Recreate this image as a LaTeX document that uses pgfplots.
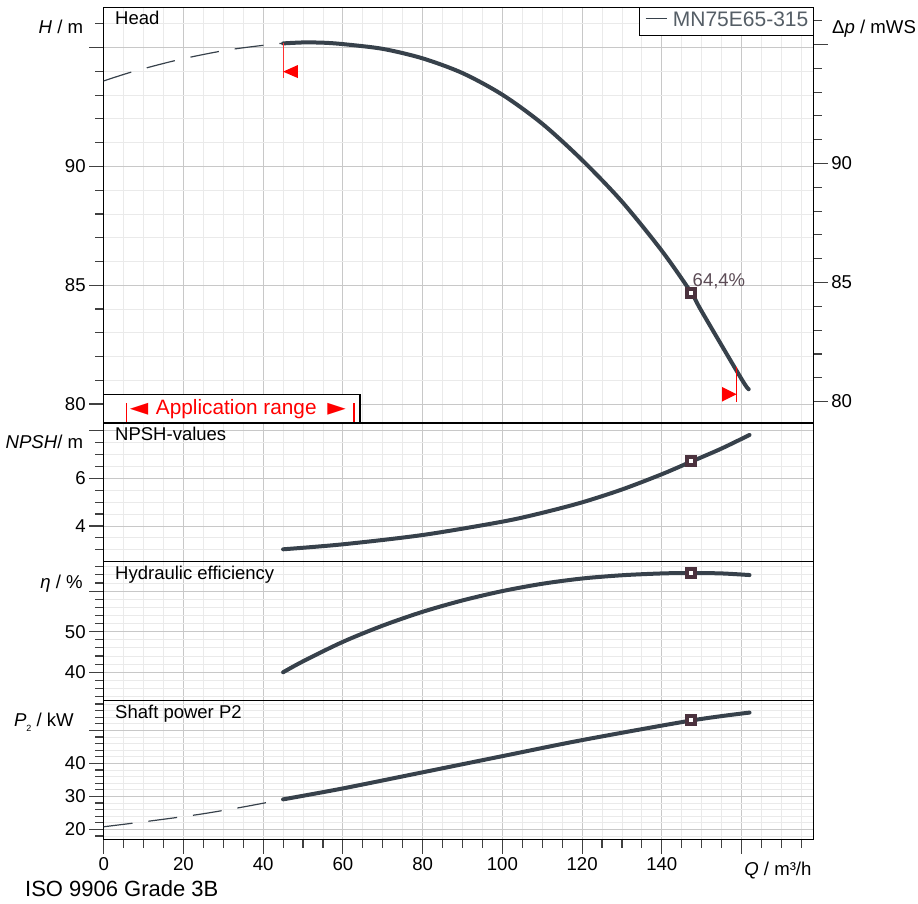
\documentclass[border=0pt]{standalone}
\usepackage{fontspec}
\setmainfont{Liberation Sans}
\newfontfamily\symfont{DejaVu Sans}
\usepackage{pgfplots}
\pgfplotsset{compat=1.18}

\definecolor{curve}{RGB}{55,65,75}
\definecolor{opmark}{RGB}{75,50,62}
\definecolor{optext}{RGB}{92,76,86}
\definecolor{gridmaj}{RGB}{200,200,200}
\definecolor{gridmin}{RGB}{234,234,234}
\newcommand\lbl{\fontsize{18.6}{21}\selectfont}
\newcommand\ttl{\fontsize{18.5}{21}\selectfont}

\pgfplotsset{
  panel/.style={
    scale only axis, width=709.6pt, anchor=south west,
    xmin=0, xmax=178,
    xtick={0,20,...,160},
    minor xtick={5,10,15,25,30,35,45,50,55,65,70,75,85,90,95,105,110,115,125,130,135,145,150,155,165,170,175},
    grid=both,
    major grid style={gridmaj, line width=0.9pt},
    minor grid style={gridmin, line width=0.9pt},
    axis line style={black, line width=1.2pt},
    tick align=outside,
    major tick length=14.5pt, minor tick length=8.5pt,
    every tick/.style={black!75, line width=1.1pt},
    ytick pos=left, xtick pos=bottom,
    ticklabel style={font=\lbl},
    /pgf/number format/assume math mode=true,
  },
  upper/.style={panel, xticklabels={},
    every major x tick/.append style={draw=none},
    every minor x tick/.append style={draw=none}},
  thick curve/.style={curve, line width=4pt, line cap=round, smooth},
  thin dash/.style={curve, line width=1.2pt, dash pattern=on 29pt off 16pt, smooth},
  op/.style={only marks, mark=square*, mark size=4pt,
    mark options={draw=opmark, fill=white, line width=4pt, solid}},
}

\begin{document}
\begin{tikzpicture}
\useasboundingbox (0,0) rectangle (918pt,903pt);

% Head
\begin{axis}[upper, at={(103.7pt,480pt)}, height=415.7pt,
  ymin=79.2, ymax=96.7,
  ytick={80,85,90,95}, yticklabels={80,85,90,{}},
  minor ytick={81,82,83,84,86,87,88,89,91,92,93,94,96}]
\addplot[thin dash] coordinates {(0,93.6)(7.5,94.0)(19,94.5)(31,94.9)(42.6,95.15)(45,95.18)};
\addplot[thick curve] coordinates {
  (45,95.18)(50,95.22)(55,95.21)(60,95.15)(70,94.95)(80,94.55)(90,93.93)(100,93.02)
  (110,91.8)(120,90.27)(130,88.52)(140,86.45)(147.4,84.68)(150,83.9)(160,81.05)(161.8,80.62)};
\draw[red!80, line width=1pt] (axis cs:45,95.18) -- (axis cs:45,93.72);
\fill[red] (axis cs:45,93.99) -- (axis cs:48.7,94.27) -- (axis cs:48.7,93.72) -- cycle;
\draw[red, line width=1pt] (axis cs:158.75,81.57) -- (axis cs:158.75,80.1);
\fill[red] (axis cs:158.75,80.41) -- (axis cs:155.1,80.72) -- (axis cs:155.1,80.1) -- cycle;
\addplot[op] coordinates {(147.4,84.68)};
\node[anchor=base west, text=optext, font=\ttl, inner sep=0pt] at (axis cs:147.7,84.93) {64,4\%};
\end{axis}

% Delta p axis on the right
\begin{axis}[scale only axis, width=709.6pt, height=415.7pt, at={(103.7pt,480pt)}, anchor=south west,
  axis x line=none, axis y line*=right, xmin=0, xmax=178, ymin=79.1, ymax=96.56,
  ytick={80,85,90,95}, yticklabels={80,85,90,{}},
  minor ytick={81,82,83,84,86,87,88,89,91,92,93,94,96},
  tick align=outside, major tick length=14.5pt, minor tick length=8.5pt,
  every tick/.style={black!75, line width=1.1pt},
  axis line style={black, line width=1.2pt},
  ticklabel style={font=\lbl},
  /pgf/number format/assume math mode=true]
\addplot[draw=none] coordinates {(0,80)(178,90)};
\end{axis}

% NPSH
\begin{axis}[upper, at={(103.7pt,341.3pt)}, height=138.7pt,
  ymin=2.5, ymax=8.32,
  ytick={4,6,8}, yticklabels={4,6,{}},
  minor ytick={3,3.5,4.5,5,5.5,6.5,7,7.5}]
\addplot[thick curve] coordinates {
  (45,3.02)(60,3.23)(80,3.62)(100,4.18)(110,4.55)(120,4.99)(130,5.53)
  (140,6.17)(147.4,6.7)(155,7.25)(162,7.82)};
\addplot[op] coordinates {(147.4,6.72)};
\end{axis}

% Efficiency
\begin{axis}[upper, at={(103.7pt,202.3pt)}, height=139pt,
  ymin=33, ymax=67.24,
  ytick={40,50,60}, yticklabels={40,50,{}},
  minor ytick={34,36,38,42,44,46,48,52,54,56,58,62,64,66}]
\addplot[thick curve] coordinates {
  (45,40.0)(50,42.7)(60,47.5)(70,51.5)(80,54.9)(90,57.7)(100,60.0)
  (110,61.8)(120,63.1)(130,63.9)(140,64.35)(147.4,64.45)(155,64.35)(162,63.95)};
\addplot[op] coordinates {(147.4,64.45)};
\end{axis}

% Shaft power
\begin{axis}[panel, at={(103.7pt,63.7pt)}, height=138.6pt,
  ymin=17, ymax=59,
  xticklabels={0,20,40,60,80,100,120,140,{}},
  ytick={20,30,40,50}, yticklabels={20,30,40,{}},
  minor ytick={18,22,24,26,28,32,34,36,38,42,44,46,48,52,54,56,58}]
\addplot[thin dash] coordinates {(0,20.8)(12,22.6)(24.2,24.6)(35,26.8)(45,29.1)};
\addplot[thick curve] coordinates {
  (45,29.1)(60,32.42)(80,37.3)(100,42.2)(120,47.06)(147.4,53.0)(162,55.4)};
\addplot[op] coordinates {(147.4,53.03)};
\end{axis}

% application range box
\draw[black, line width=1.2pt, fill=white] (103.7pt,480pt) rectangle (360pt,508.3pt);
\draw[red, line width=1.3pt] (126.7pt,481.3pt) -- (126.7pt,500.3pt);
\draw[red, line width=1.3pt] (354pt,481.3pt) -- (354pt,500.3pt);
\node[anchor=base west, inner sep=0pt, text=red, font=\fontsize{24}{24}\selectfont] at (129.7pt,487.5pt) {{\symfont ◄}};
\node[anchor=base west, inner sep=0pt, text=red, font=\fontsize{20.8}{22}\selectfont] at (155.7pt,488pt) {Application range};
\node[anchor=base east, inner sep=0pt, text=red, font=\fontsize{24}{24}\selectfont] at (346pt,487.5pt) {{\symfont ►}};

% legend
\draw[black, line width=1.2pt, fill=white] (639.3pt,867.3pt) rectangle (813.3pt,895.7pt);
\draw[curve, line width=1.2pt] (645.7pt,884.3pt) -- (666.7pt,884.3pt);
\node[anchor=base west, inner sep=0pt, text=curve!85, font=\fontsize{21}{23}\selectfont] at (672.7pt,876.3pt) {MN75E65-315};

% panel titles and axis labels
\node[anchor=base west, inner sep=0pt, font=\ttl] at (115pt,878pt) {Head};
\node[anchor=base west, inner sep=0pt, font=\ttl] at (115pt,462.3pt) {NPSH-values};
\node[anchor=base west, inner sep=0pt, font=\ttl] at (115pt,323.7pt) {Hydraulic efficiency};
\node[anchor=base west, inner sep=0pt, font=\ttl] at (115pt,184.7pt) {Shaft power P2};

\node[anchor=base east, inner sep=0pt, font=\lbl] at (83.3pt,869.7pt) {\textit{H} / m};
\node[anchor=base west, inner sep=0pt, font=\lbl] at (832pt,869.7pt) {Δ\textit{p} / mWS};
\node[anchor=base east, inner sep=0pt, font=\lbl] at (83.3pt,454.7pt) {\textit{NPSH}/ m};
\node[anchor=base east, inner sep=0pt, font=\lbl] at (83pt,314.7pt) {\textit{η} / \%};
\node[anchor=base east, inner sep=0pt, font=\lbl] at (74pt,177pt) {\textit{P}\raisebox{-0.3em}{\fontsize{9}{9}\selectfont 2} / kW};
\node[anchor=base east, inner sep=0pt, font=\lbl] at (811.7pt,28pt) {\textit{Q} / m³/h};
\node[anchor=base west, inner sep=0pt, font=\fontsize{22}{24}\selectfont] at (25pt,6.3pt) {ISO 9906 Grade 3B};
\end{tikzpicture}
\end{document}
